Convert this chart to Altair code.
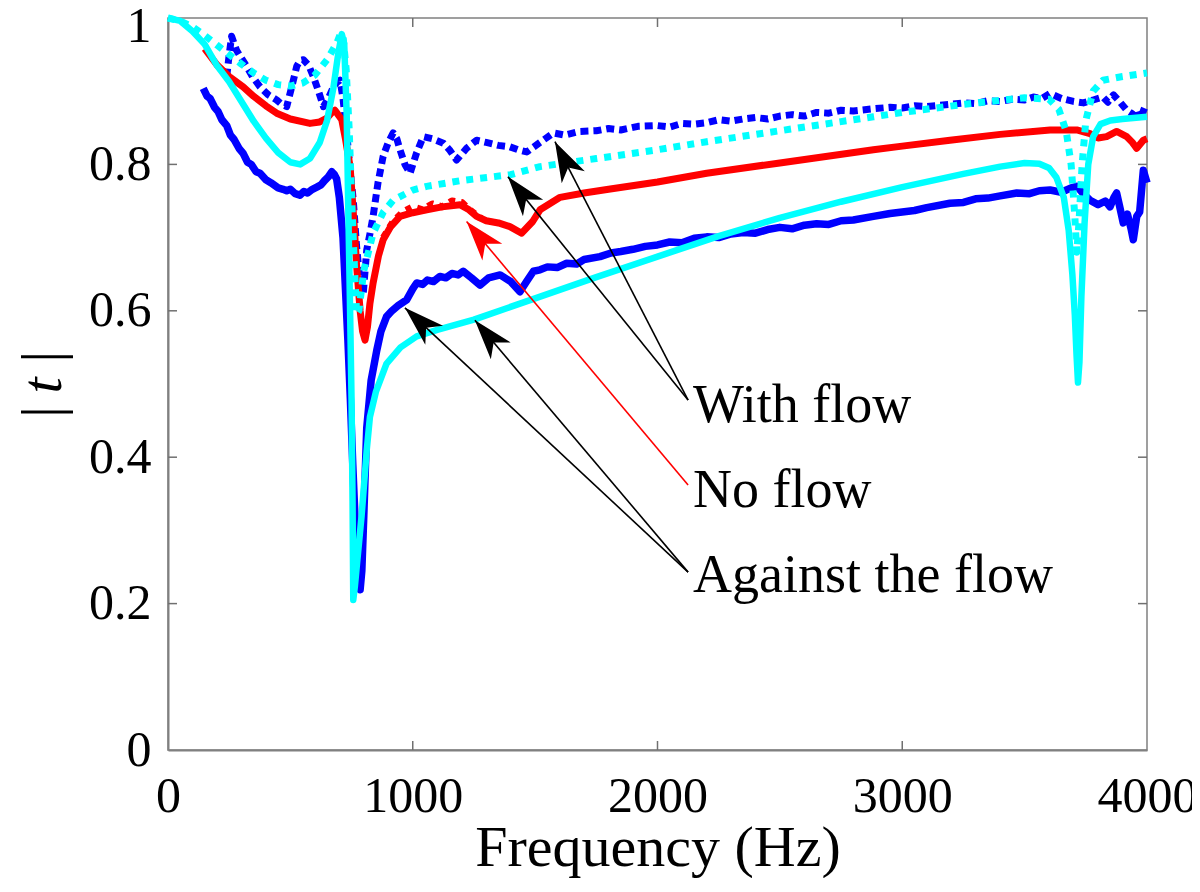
import math
import altair as alt
import pandas as pd

W, H = 979, 732
F_MAX = 4000

freq_ticks = [0, 1000, 2000, 3000, 4000]
t_ticks = [0, 0.2, 0.4, 0.6, 0.8, 1.0]
inner_freq_ticks = [1000, 2000, 3000]
inner_t_ticks = [0.2, 0.4, 0.6, 0.8]

# cyan solid: model, against the flow
against_model = [(0, 1.0), (50, 0.996), (100, 0.982), (150, 0.964), (200, 0.935), (250, 0.913),
                 (300, 0.886), (350, 0.859), (400, 0.836), (450, 0.816), (500, 0.803), (540, 0.800),
                 (580, 0.808), (620, 0.83), (650, 0.86), (676, 0.905), (695, 0.95), (710, 0.978),
                 (720, 0.965), (730, 0.87), (736, 0.75), (743, 0.62), (750, 0.478), (754, 0.34),
                 (757, 0.205), (764, 0.225), (771, 0.25), (781, 0.285), (791, 0.32), (812, 0.41),
                 (825, 0.455), (850, 0.49), (893, 0.528), (950, 0.55), (1016, 0.565), (1100, 0.574),
                 (1250, 0.588), (1500, 0.617), (1750, 0.646), (2000, 0.674), (2250, 0.702),
                 (2500, 0.727), (2750, 0.749), (3000, 0.769), (3250, 0.787), (3400, 0.797),
                 (3500, 0.802), (3560, 0.801), (3600, 0.795), (3630, 0.782), (3660, 0.755),
                 (3680, 0.71), (3695, 0.65), (3705, 0.595), (3712, 0.54), (3718, 0.502), (3724, 0.53),
                 (3732, 0.62), (3745, 0.72), (3760, 0.80), (3780, 0.838), (3810, 0.855), (3850, 0.86),
                 (3900, 0.862), (4000, 0.865)]

# cyan dotted: model, with the flow
with_model = [(0, 1.0), (50, 0.996), (100, 0.988), (150, 0.976), (200, 0.963), (250, 0.95),
              (300, 0.937), (350, 0.925), (400, 0.915), (450, 0.909), (500, 0.907), (550, 0.911),
              (600, 0.922), (650, 0.943), (690, 0.966), (705, 0.979), (715, 0.975), (728, 0.93),
              (740, 0.85), (752, 0.74), (763, 0.65), (771, 0.595), (780, 0.60), (800, 0.655),
              (838, 0.706), (880, 0.735), (920, 0.751), (1000, 0.765), (1057, 0.770), (1200, 0.778),
              (1400, 0.786), (1520, 0.797), (1750, 0.808), (2000, 0.82), (2201, 0.831), (2500, 0.846),
              (2882, 0.865), (3000, 0.871), (3250, 0.882), (3500, 0.891), (3600, 0.889), (3640, 0.875),
              (3670, 0.845), (3690, 0.80), (3705, 0.73), (3713, 0.68), (3722, 0.72), (3735, 0.80),
              (3750, 0.86), (3780, 0.90), (3820, 0.915), (3900, 0.92), (4000, 0.925)]

# red: no flow
no_flow = [(150, 0.958), (200, 0.936), (250, 0.92), (307, 0.906), (350, 0.893), (400, 0.88),
           (444, 0.870), (500, 0.862), (580, 0.856), (620, 0.858), (648, 0.863), (670, 0.871),
           (682, 0.874), (695, 0.868), (710, 0.861), (725, 0.835), (744, 0.797), (760, 0.72),
           (771, 0.66), (785, 0.60), (795, 0.572), (805, 0.560), (815, 0.578), (825, 0.61),
           (838, 0.638), (860, 0.675), (879, 0.697), (910, 0.715), (948, 0.729), (1000, 0.734),
           (1057, 0.738), (1120, 0.742), (1193, 0.745), (1230, 0.738), (1261, 0.729), (1300, 0.723),
           (1350, 0.72), (1397, 0.715), (1445, 0.706), (1490, 0.722), (1520, 0.738), (1602, 0.755),
           (1700, 0.761), (1800, 0.766), (2000, 0.776), (2201, 0.788), (2500, 0.802), (2882, 0.820),
           (3000, 0.825), (3195, 0.833), (3400, 0.841), (3604, 0.847), (3713, 0.847), (3767, 0.842),
           (3800, 0.836), (3835, 0.838), (3876, 0.845), (3917, 0.838), (3940, 0.83), (3958, 0.822),
           (3985, 0.833), (4000, 0.835)]

# red dotted: measured, no flow (visible where it departs from the red line)
no_flow_meas = [(880, 0.70), (920, 0.722), (960, 0.735), (1000, 0.742), (1040, 0.738), (1080, 0.746),
                (1120, 0.742), (1160, 0.75), (1200, 0.748), (1240, 0.736), (1280, 0.726)]

# blue solid: measured, against the flow
against_meas = [(144, 0.904), (160, 0.893), (172, 0.890), (190, 0.878), (205, 0.872), (220, 0.861),
                (240, 0.853), (255, 0.840), (270, 0.834), (290, 0.822), (307, 0.815), (325, 0.803),
                (340, 0.800), (360, 0.790), (376, 0.788), (400, 0.779), (420, 0.775), (450, 0.768),
                (470, 0.766), (485, 0.764), (500, 0.766), (520, 0.760), (539, 0.758), (555, 0.763),
                (570, 0.761), (590, 0.766), (608, 0.769), (625, 0.772), (640, 0.778), (655, 0.783),
                (669, 0.790), (680, 0.786), (689, 0.780), (700, 0.755), (715, 0.70), (725, 0.63),
                (735, 0.56), (745, 0.48), (755, 0.39), (765, 0.31), (775, 0.255), (785, 0.219),
                (792, 0.245), (800, 0.32), (812, 0.44), (830, 0.505), (853, 0.546), (870, 0.572),
                (893, 0.592), (915, 0.600), (940, 0.607), (975, 0.615), (1000, 0.630), (1016, 0.638),
                (1040, 0.636), (1060, 0.642), (1085, 0.640), (1111, 0.647), (1135, 0.645), (1160, 0.651),
                (1185, 0.649), (1206, 0.654), (1240, 0.645), (1275, 0.635), (1310, 0.645), (1357, 0.649),
                (1400, 0.640), (1438, 0.626), (1465, 0.640), (1493, 0.654), (1520, 0.656), (1550, 0.660),
                (1590, 0.659), (1629, 0.665), (1670, 0.664), (1700, 0.670), (1765, 0.674), (1810, 0.679),
                (1850, 0.681), (1900, 0.684), (1950, 0.688), (2000, 0.690), (2050, 0.694), (2100, 0.693),
                (2150, 0.699), (2201, 0.701), (2250, 0.700), (2300, 0.705), (2350, 0.707), (2400, 0.706),
                (2450, 0.711), (2500, 0.714), (2550, 0.712), (2600, 0.717), (2650, 0.719), (2700, 0.718),
                (2750, 0.723), (2800, 0.724), (2882, 0.729), (2950, 0.733), (3000, 0.735), (3050, 0.737),
                (3100, 0.741), (3195, 0.747), (3250, 0.748), (3300, 0.753), (3350, 0.754), (3400, 0.757),
                (3468, 0.761), (3520, 0.760), (3560, 0.764), (3604, 0.765), (3650, 0.762), (3690, 0.768),
                (3713, 0.770), (3740, 0.760), (3767, 0.751), (3800, 0.745), (3830, 0.750), (3849, 0.742),
                (3865, 0.755), (3876, 0.761), (3890, 0.740), (3903, 0.720), (3920, 0.732), (3935, 0.712),
                (3944, 0.697), (3958, 0.729), (3970, 0.735), (3985, 0.792), (4000, 0.775)]

# blue dotted: measured, with the flow
with_meas = [(240, 0.92), (250, 0.95), (260, 0.975), (270, 0.965), (280, 0.956), (300, 0.945),
             (321, 0.934), (345, 0.92), (376, 0.906), (410, 0.895), (444, 0.888), (465, 0.882),
             (485, 0.879), (505, 0.905), (526, 0.934), (540, 0.942), (553, 0.943), (575, 0.935),
             (594, 0.92), (615, 0.90), (635, 0.879), (655, 0.89), (676, 0.906), (690, 0.912),
             (703, 0.915), (715, 0.89), (730, 0.843), (745, 0.79), (757, 0.751), (770, 0.69),
             (785, 0.638), (798, 0.625), (812, 0.683), (825, 0.705), (838, 0.729), (858, 0.775),
             (879, 0.811), (900, 0.83), (920, 0.843), (935, 0.835), (948, 0.82), (968, 0.80),
             (989, 0.788), (1015, 0.815), (1043, 0.838), (1080, 0.835), (1125, 0.829), (1150, 0.82),
             (1179, 0.806), (1220, 0.822), (1261, 0.833), (1300, 0.83), (1350, 0.826), (1397, 0.824),
             (1430, 0.82), (1466, 0.817), (1520, 0.83), (1575, 0.843), (1620, 0.84), (1680, 0.845),
             (1750, 0.846), (1800, 0.849), (1850, 0.847), (1920, 0.852), (2000, 0.853), (2050, 0.851),
             (2100, 0.856), (2150, 0.855), (2201, 0.857), (2250, 0.861), (2300, 0.859), (2350, 0.862),
             (2400, 0.864), (2450, 0.862), (2500, 0.866), (2550, 0.868), (2600, 0.866), (2650, 0.871),
             (2700, 0.87), (2750, 0.874), (2800, 0.873), (2882, 0.876), (2950, 0.878), (3000, 0.877),
             (3050, 0.880), (3100, 0.879), (3195, 0.882), (3250, 0.884), (3300, 0.883), (3350, 0.887),
             (3400, 0.886), (3450, 0.889), (3500, 0.888), (3536, 0.892), (3570, 0.89), (3604, 0.897),
             (3650, 0.89), (3700, 0.886), (3740, 0.884), (3780, 0.888), (3820, 0.892), (3840, 0.885),
             (3863, 0.895), (3890, 0.885), (3917, 0.874), (3945, 0.868), (3960, 0.875), (3971, 0.861),
             (3992, 0.879)]

# annotation texts (left edge frequency, baseline |t|)
label_texts = ["With flow", "No flow", "Against the flow"]
label_f = [2145, 2145, 2145]
label_t = [0.4485, 0.332, 0.216]

# arrows: tail (at the text) -> head (on the curve)
arrow_tail_f = [2125, 2125, 2125, 2125, 2125]
arrow_tail_t = [0.478, 0.478, 0.362, 0.243, 0.243]
arrow_head_f = [1581, 1389, 1220, 968, 1254]
arrow_head_t = [0.831, 0.783, 0.722, 0.604, 0.587]
arrow_color = ["black", "black", "red", "black", "black"]


def to_df(pairs):
    return pd.DataFrame({"f": [p[0] for p in pairs], "t": [p[1] for p in pairs]})


x_scale = alt.Scale(domain=[0, F_MAX], nice=False, zero=False)
y_scale = alt.Scale(domain=[0, 1], nice=False, zero=False)

x_axis = alt.Axis(values=freq_ticks, format="d", labelFlush=False, ticks=False, grid=False,
                  labelPadding=21, title="Frequency (Hz)", titleY=115, titleBaseline="alphabetic")
y_axis = alt.Axis(values=t_ticks, format="~g", labelFlush=False, ticks=False, grid=False,
                  labelPadding=17, labelOffset={"expr": "datum.value == 1 ? 8 : 0"},
                  title="|\u2009t\u2009|", titleAngle=270, titleX=-108, titleY=367,
                  titleBaseline="alphabetic", titleAlign="center", titleFontStyle="italic",
                  titleFontSize=58)

X = alt.X("f:Q", scale=x_scale, axis=x_axis)
Y = alt.Y("t:Q", scale=y_scale, axis=y_axis)


def curve(pairs, color, width, dash=None):
    kw = dict(color=color, strokeWidth=width, strokeJoin="round", strokeCap="butt")
    if dash:
        kw["strokeDash"] = dash
    return alt.Chart(to_df(pairs)).mark_line(**kw).encode(x=X, y=Y)


layers = [
    curve(against_meas, "#0000ff", 7.5),
    curve(with_meas, "#0000ff", 7, [8, 5]),
    curve(no_flow_meas, "#ff0000", 7, [6, 6]),
    curve(no_flow, "#ff0000", 7),
    curve(with_model, "#00ffff", 7, [7, 7]),
    curve(against_model, "#00ffff", 6.5),
]

# inner ticks (box style)
tick_color = "#707070"
xt = pd.DataFrame({"f": inner_freq_ticks})
yt = pd.DataFrame({"t": inner_t_ticks})
layers += [
    alt.Chart(xt).mark_rule(color=tick_color, strokeWidth=1.5).encode(x=X, y=alt.value(H), y2=alt.value(H - 9)),
    alt.Chart(xt).mark_rule(color=tick_color, strokeWidth=1.5).encode(x=X, y=alt.value(0), y2=alt.value(9)),
    alt.Chart(yt).mark_rule(color=tick_color, strokeWidth=1.5).encode(y=Y, x=alt.value(0), x2=alt.value(9)),
    alt.Chart(yt).mark_rule(color=tick_color, strokeWidth=1.5).encode(y=Y, x=alt.value(W), x2=alt.value(W - 9)),
]

# arrows
angles = []
for ft, tt, fh, th in zip(arrow_tail_f, arrow_tail_t, arrow_head_f, arrow_head_t):
    dx = (fh - ft) * W / F_MAX
    dy = -(th - tt) * H
    angles.append(math.degrees(math.atan2(dx, -dy)) % 360)

arrows = pd.DataFrame({"f": arrow_tail_f, "t": arrow_tail_t, "f2": arrow_head_f, "t2": arrow_head_t,
                       "c": arrow_color, "ang": angles})
heads = pd.DataFrame({"f": arrow_head_f, "t": arrow_head_t, "c": arrow_color, "ang": angles})

head_path = "M0,0 L0.65,2 L0,1.45 L-0.65,2 Z"

layers += [
    alt.Chart(arrows).mark_rule(strokeWidth=1.6).encode(
        x=X, y=Y, x2="f2:Q", y2="t2:Q", color=alt.Color("c:N", scale=None)),
    alt.Chart(heads).mark_point(shape=head_path, filled=True, size=1600, opacity=1, strokeWidth=0).encode(
        x=X, y=Y, color=alt.Color("c:N", scale=None), angle=alt.Angle("ang:Q", scale=None)),
]

texts = pd.DataFrame({"f": label_f, "t": label_t, "label": label_texts})
layers.append(
    alt.Chart(texts).mark_text(align="left", baseline="alphabetic", font="Liberation Serif",
                               fontSize=54, color="black").encode(x=X, y=Y, text="label:N")
)

chart = alt.layer(*layers).properties(
    width=W, height=H,
    padding={"left": 160, "top": 10, "right": 45, "bottom": 128},
    autosize=alt.AutoSizeParams(type="none"),
).configure_view(
    stroke="#808080", strokeWidth=1.5
).configure_axis(
    labelFont="Liberation Serif", titleFont="Liberation Serif",
    labelFontSize=50, titleFontSize=58, titleFontWeight="normal",
    labelColor="black", titleColor="black",
    domainColor="#808080", domainWidth=2,
)

chart.save("out.html", embed_options={"renderer": "svg", "actions": False})
